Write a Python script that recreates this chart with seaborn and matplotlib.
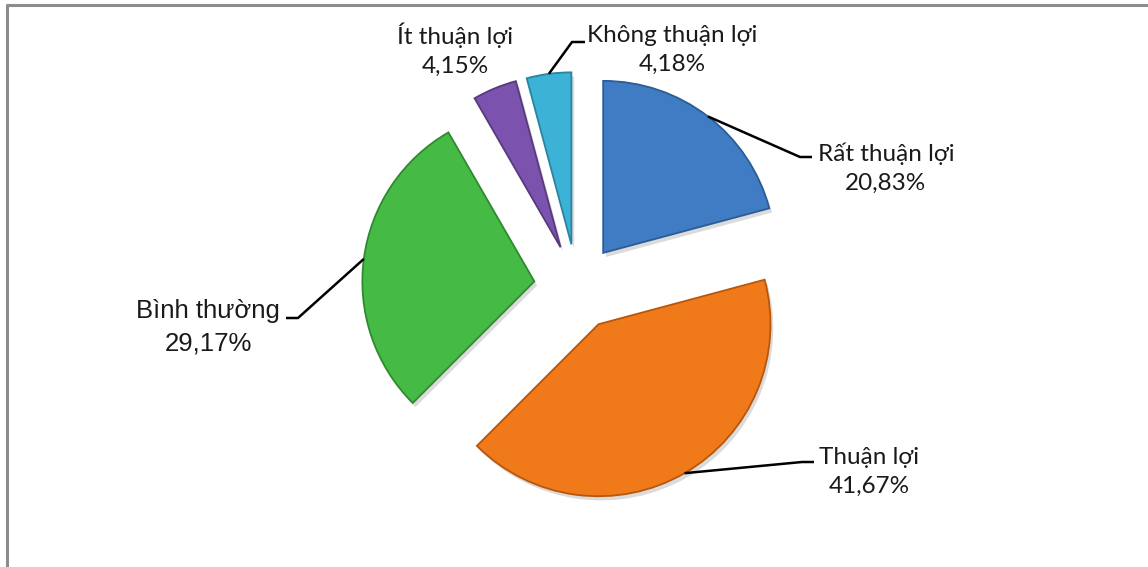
import numpy as np
import matplotlib
matplotlib.use("Agg")
import matplotlib.pyplot as plt
import matplotlib.patheffects as pe
import seaborn as sns

# data
labels = ["Rất thuận lợi", "Thuận lợi", "Bình thường", "Ít thuận lợi", "Không thuận lợi"]
values = [20.83, 41.67, 29.17, 4.15, 4.18]
colors = ["#3f7cc4", "#f07a1a", "#45bb45", "#7b52ad", "#3cb3d6"]
edges = ["#2d5c94", "#b8570c", "#2f8a2f", "#573a7e", "#2a84a0"]

sns.set_theme(style="white")
plt.rcParams['font.family'] = ['Lato', 'DejaVu Sans']

W, H = 1148, 567
fig = plt.figure(figsize=(W / 100, H / 100), dpi=100)
ax = fig.add_axes([0, 0, 1, 1])

cx, cy, r = 577, H - 287, 172
# explode is in data units here (radius is not 1)
wedges, _ = ax.pie(values, colors=colors, startangle=90, counterclock=False,
                   explode=[0.25 * r] * 5, center=(cx, cy), radius=r,
                   wedgeprops=dict(edgecolor="none", linewidth=0))
for w, ec in zip(wedges, edges):
    w.set_edgecolor(ec)
    w.set_linewidth(1.3)
    w.set_path_effects([pe.SimplePatchShadow(offset=(2, -3), shadow_rgbFace="#999999", alpha=0.35),
                        pe.Normal()])

ax.set_xlim(0, W)
ax.set_ylim(0, H)
ax.set_aspect('equal')
ax.axis('off')


def arc_mid(w):
    a = np.deg2rad((w.theta1 + w.theta2) / 2)
    x0, y0 = w.center
    return x0 + w.r * np.cos(a), y0 + w.r * np.sin(a)


# label layout (pixel coords, y from top), elbow, line end
layout = {
    "Rất thuận lợi": dict(pos=(886, 168), elbow=(800, 157), end=(812, 157), font=None),
    "Thuận lợi": dict(pos=(869, 472), elbow=(802, 462), end=(814, 462), font=None),
    "Bình thường": dict(pos=(208, 327), elbow=(298, 318), end=(286, 318), font="Liberation Sans"),
    "Ít thuận lợi": dict(pos=(455, 50), elbow=None, end=None, font=None),
    "Không thuận lợi": dict(pos=(672, 50), elbow=(572, 42), end=(585, 42), font=None),
}

for w, lab, v in zip(wedges, labels, values):
    L = layout[lab]
    txt = f"{lab}\n{v:.2f}%".replace(".", ",")
    fam = [L["font"], 'DejaVu Sans'] if L["font"] else ['Lato', 'DejaVu Sans']
    fs = 18.5 if L["font"] else 17.5
    ax.text(L["pos"][0], H - L["pos"][1], txt, ha="center", va="center",
            multialignment="center", fontsize=fs, color="#1a1a1a",
            family=fam, linespacing=1.45)
    if L["elbow"] is not None:
        ax0, ay0 = arc_mid(w)
        ax.plot([ax0, L["elbow"][0], L["end"][0]],
                [ay0, H - L["elbow"][1], H - L["end"][1]],
                color="black", lw=1.8, solid_capstyle="butt")

# chart frame (top and left edges visible)
fig.add_artist(plt.Line2D([7 / W, 1], [1 - 5 / H, 1 - 5 / H], color="#8c8c8c", lw=2.2,
                          transform=fig.transFigure))
fig.add_artist(plt.Line2D([7 / W, 7 / W], [0, 1 - 5 / H], color="#8c8c8c", lw=2.2,
                          transform=fig.transFigure))

fig.savefig("out.png", dpi=100, facecolor="white")
